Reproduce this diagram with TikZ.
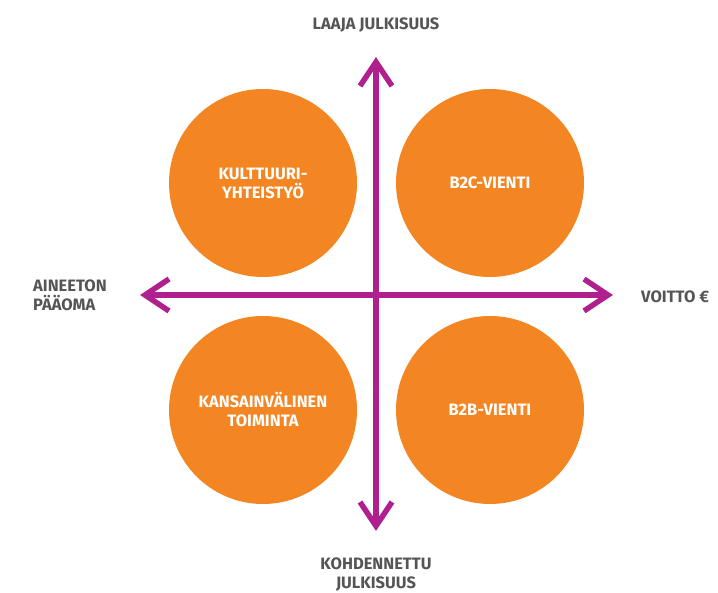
\documentclass[tikz,border=0pt]{standalone}
\usepackage{fontspec}
\setmainfont{Fira Sans}
\definecolor{axispurple}{HTML}{B01F8E}
\definecolor{circorange}{HTML}{F38522}
\definecolor{labelgray}{HTML}{555555}
\newcommand{\UC}[1]{\MakeUppercase{#1}}
\begin{document}
\begin{tikzpicture}[x=1pt,y=-1pt,
  axis/.style={draw=axispurple,line width=5.5pt},
  chev/.style={draw=axispurple,line width=5.5pt,line join=miter,line cap=butt},
  blob/.style={circle,fill=circorange,minimum size=188pt,inner sep=0pt,text=white,
    font=\bfseries\fontsize{16.5}{19}\selectfont,align=center},
  lbl/.style={text=labelgray,font=\bfseries\fontsize{16.5}{19}\selectfont,inner sep=0pt}]
\useasboundingbox (0,0) rectangle (718,593);
\node[blob] (kult) at (263,183) {\UC{KULTTUURI-}\\\UC{YHTEISTYÖ}};
\node[blob] (b2c) at (490,183) {\UC{B2C-VIENTI}};
\node[blob] (kans) at (263,410) {\UC{KANSAINVÄLINEN}\\\UC{TOIMINTA}};
\node[blob] (b2b) at (490,410) {\UC{B2B-VIENTI}};
\coordinate (top) at (376,62);
\coordinate (bot) at (376,526);
\coordinate (lft) at (145,295);
\coordinate (rgt) at (608,295);
\draw[axis] (top) -- (bot);
\draw[axis] (lft) -- (rgt);
\draw[chev] ([shift={(-16,24)}]top) -- (top) -- ([shift={(16,24)}]top);
\draw[chev] ([shift={(-16,-24)}]bot) -- (bot) -- ([shift={(16,-24)}]bot);
\draw[chev] ([shift={(24,-16)}]lft) -- (lft) -- ([shift={(24,16)}]lft);
\draw[chev] ([shift={(-24,-16)}]rgt) -- (rgt) -- ([shift={(-24,16)}]rgt);
\node[lbl] (laaja) at (376,25) {\UC{LAAJA JULKISUUS}};
\node[lbl,align=left,anchor=west] (aine) at (33,295) {\UC{AINEETON}\\\UC{PÄÄOMA}};
\node[lbl,anchor=west] (voitto) at (641,297) {\UC{VOITTO €}};
\node[lbl,align=center] (kohd) at (376,575) {\UC{KOHDENNETTU}\\\UC{JULKISUUS}};
\end{tikzpicture}
\end{document}
